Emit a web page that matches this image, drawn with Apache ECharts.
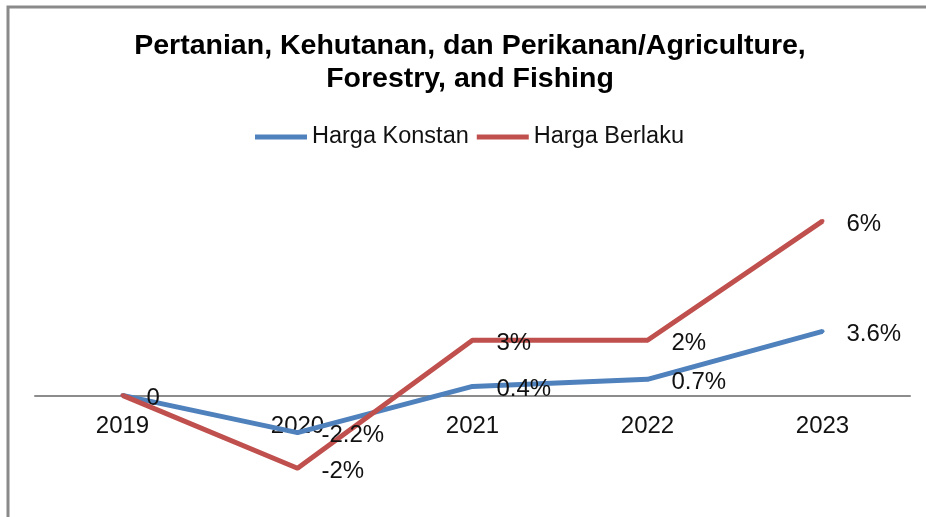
<!DOCTYPE html>
<html>
<head>
<meta charset="utf-8">
<script src="https://cdn.jsdelivr.net/npm/echarts@6/dist/echarts.min.js"></script>
<style>
html,body{margin:0;padding:0;background:#fff;}
#chart{width:926px;height:517px;}
</style>
</head>
<body>
<div id="chart"></div>
<script>
// Data
const years = ['2019', '2020', '2021', '2022', '2023'];
const hargaKonstan = [0, -2.1, 0.5, 0.9, 3.6];
const hargaBerlaku = [0, -4.1, 3.1, 3.1, 9.8];
// Data label texts as printed in the original
const labelsKonstan = ['0', '-2.2%', '0.4%', '0.7%', '3.6%'];
const labelsBerlaku = ['', '-2%', '3%', '2%', '6%'];

const FONT = '"Liberation Sans", Arial, Helvetica, sans-serif';
const Y_MIN = -6, Y_MAX = 12;
const GRID_TOP = 182, GRID_H = 320;
// x axis drawn at the zero line
const zeroOffset = -(GRID_H * (0 - Y_MIN) / (Y_MAX - Y_MIN));

const chart = echarts.init(document.getElementById('chart'), null, {renderer: 'canvas'});

function lineSeries(name, data, labels, color) {
  return {
    name: name,
    type: 'line',
    data: data,
    symbol: 'circle',
    symbolSize: 4,
    showSymbol: true,
    lineStyle: {color: color, width: 5},
    itemStyle: {color: color},
    label: {
      show: true,
      position: 'right',
      distance: 22,
      offset: [0, 3],
      fontFamily: FONT,
      fontSize: 24,
      color: '#111',
      formatter: p => labels[p.dataIndex]
    },
    emphasis: {disabled: true},
    animation: false
  };
}

chart.setOption({
  backgroundColor: '#fff',
  animation: false,
  title: {
    text: 'Pertanian, Kehutanan, dan Perikanan/Agriculture,\nForestry, and Fishing',
    left: 465,
    textAlign: 'center',
    top: 25,
    textStyle: {fontFamily: FONT, fontWeight: 'bold', fontSize: 28.5, lineHeight: 33, color: '#000'}
  },
  legend: {
    top: 120,
    left: 250,
    icon: 'rect',
    itemWidth: 52,
    itemHeight: 5,
    itemGap: 8,
    textStyle: {fontFamily: FONT, fontSize: 23.5, color: '#111'},
    data: ['Harga Konstan', 'Harga Berlaku']
  },
  grid: {left: 35, right: 16, top: GRID_TOP, height: GRID_H, containLabel: false, outerBoundsMode: 'none'},
  xAxis: {
    type: 'category',
    data: years,
    boundaryGap: true,
    position: 'bottom',
    offset: zeroOffset,
    axisLine: {onZero: false, lineStyle: {color: '#8c8c8c', width: 2}},
    axisTick: {show: false},
    axisLabel: {fontFamily: FONT, fontSize: 24, color: '#111', margin: 19},
    splitLine: {show: false}
  },
  yAxis: {
    type: 'value',
    min: Y_MIN,
    max: Y_MAX,
    show: false,
    splitLine: {show: false}
  },
  graphic: [{
    type: 'polyline',
    shape: {points: [[8, 517], [8, 7], [926, 7]]},
    style: {stroke: '#8a8a8a', lineWidth: 3, fill: null},
    silent: true
  }],
  series: [
    lineSeries('Harga Konstan', hargaKonstan, labelsKonstan, '#4F81BD'),
    lineSeries('Harga Berlaku', hargaBerlaku, labelsBerlaku, '#C0504D')
  ]
});
</script>
</body>
</html>
